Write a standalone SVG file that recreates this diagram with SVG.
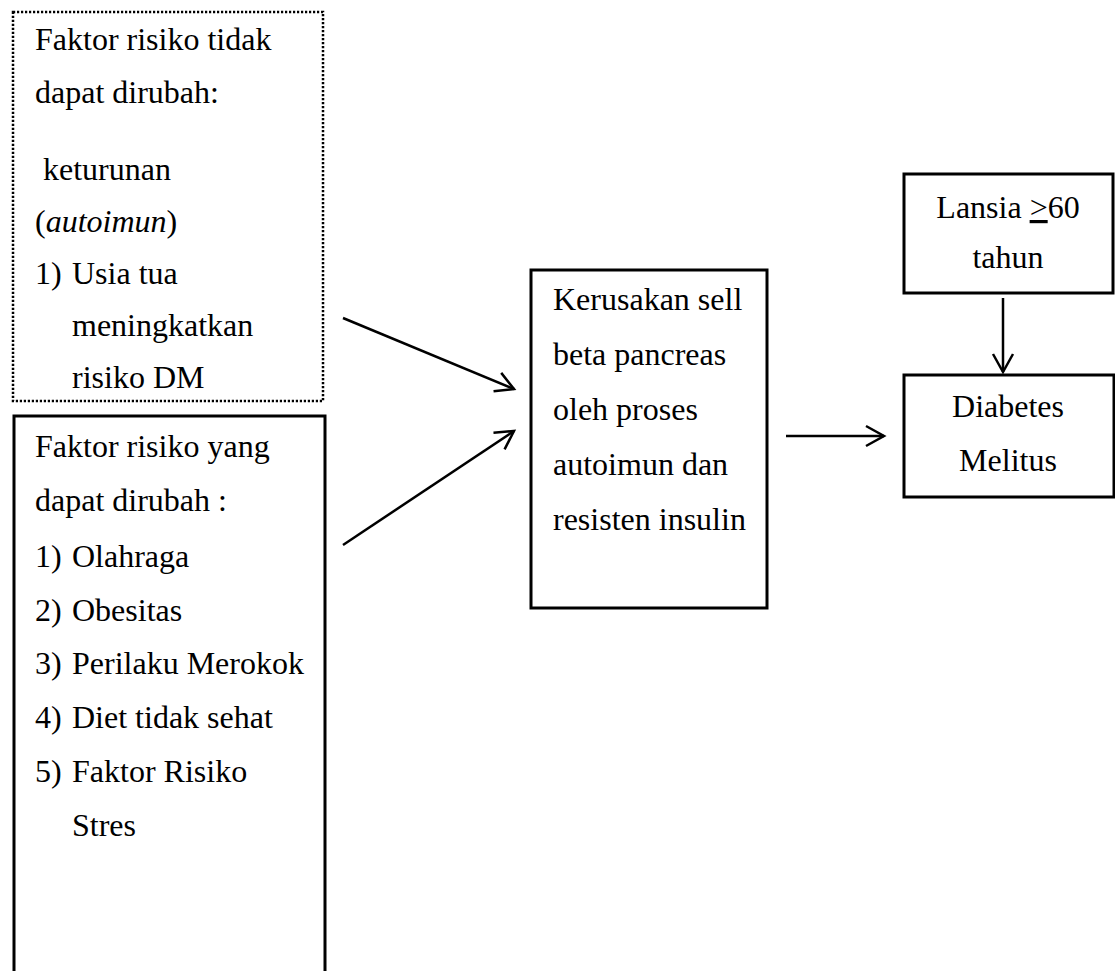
<svg xmlns="http://www.w3.org/2000/svg" width="1115" height="971" viewBox="0 0 1115 971">
<style>
text{font-family:"Liberation Serif","Times New Roman",serif;font-size:32px;fill:#000}
.box{fill:none;stroke:#000;stroke-width:3}
.dot{fill:none;stroke:#000;stroke-width:2.5;stroke-dasharray:2.2 1.8}
.conn{fill:none;stroke:#000;stroke-width:2.5}
.c{text-anchor:middle}
</style>
<defs>
<marker id="arr" markerUnits="userSpaceOnUse" markerWidth="24" markerHeight="24" refX="20" refY="12" orient="auto">
<path d="M2,2 L20,12 L2,22" fill="none" stroke="#000" stroke-width="2.5"/>
</marker>
</defs>
<rect width="1115" height="971" fill="#fff"/>
<g id="n-tidak">
<rect class="dot" x="13" y="12" width="310" height="389"/>
<text x="35" y="50">Faktor risiko tidak</text>
<text x="35" y="103">dapat dirubah:</text>
<text x="35" y="180" xml:space="preserve"> keturunan</text>
<text x="35" y="232">(<tspan font-style="italic">autoimun</tspan>)</text>
<text x="35" y="284">1)</text><text x="72" y="284">Usia tua</text>
<text x="72" y="336">meningkatkan</text>
<text x="72" y="388">risiko DM</text>
</g>
<g id="n-dapat">
<path class="box" d="M14,975 V416 H325 V975"/>
<text x="35" y="457">Faktor risiko yang</text>
<text x="35" y="511">dapat dirubah :</text>
<text x="35" y="567">1)</text><text x="72" y="567">Olahraga</text>
<text x="35" y="621">2)</text><text x="72" y="621">Obesitas</text>
<text x="35" y="674">3)</text><text x="72" y="674">Perilaku Merokok</text>
<text x="35" y="728">4)</text><text x="72" y="728">Diet tidak sehat</text>
<text x="35" y="782">5)</text><text x="72" y="782">Faktor Risiko</text>
<text x="72" y="836">Stres</text>
</g>
<g id="n-kerusakan">
<rect class="box" x="531" y="270" width="236" height="338"/>
<text x="553" y="310">Kerusakan sell</text>
<text x="553" y="365">beta pancreas</text>
<text x="553" y="420">oleh proses</text>
<text x="553" y="475">autoimun dan</text>
<text x="553" y="530">resisten insulin</text>
</g>
<g id="n-lansia">
<rect class="box" x="904" y="174" width="209" height="119"/>
<text class="c" x="1008" y="218">Lansia <tspan text-decoration="underline">&gt;</tspan>60</text>
<text class="c" x="1008" y="268">tahun</text>
</g>
<g id="n-dm">
<rect class="box" x="904" y="375" width="210" height="122"/>
<text class="c" x="1008" y="417">Diabetes</text>
<text class="c" x="1008" y="471">Melitus</text>
</g>
<g id="connectors">
<line class="conn" x1="343" y1="318" x2="514" y2="389" marker-end="url(#arr)"/>
<line class="conn" x1="343" y1="545" x2="514" y2="431" marker-end="url(#arr)"/>
<line class="conn" x1="786" y1="436" x2="884" y2="436" marker-end="url(#arr)"/>
<line class="conn" x1="1003" y1="298" x2="1003" y2="372" marker-end="url(#arr)"/>
</g>
</svg>
